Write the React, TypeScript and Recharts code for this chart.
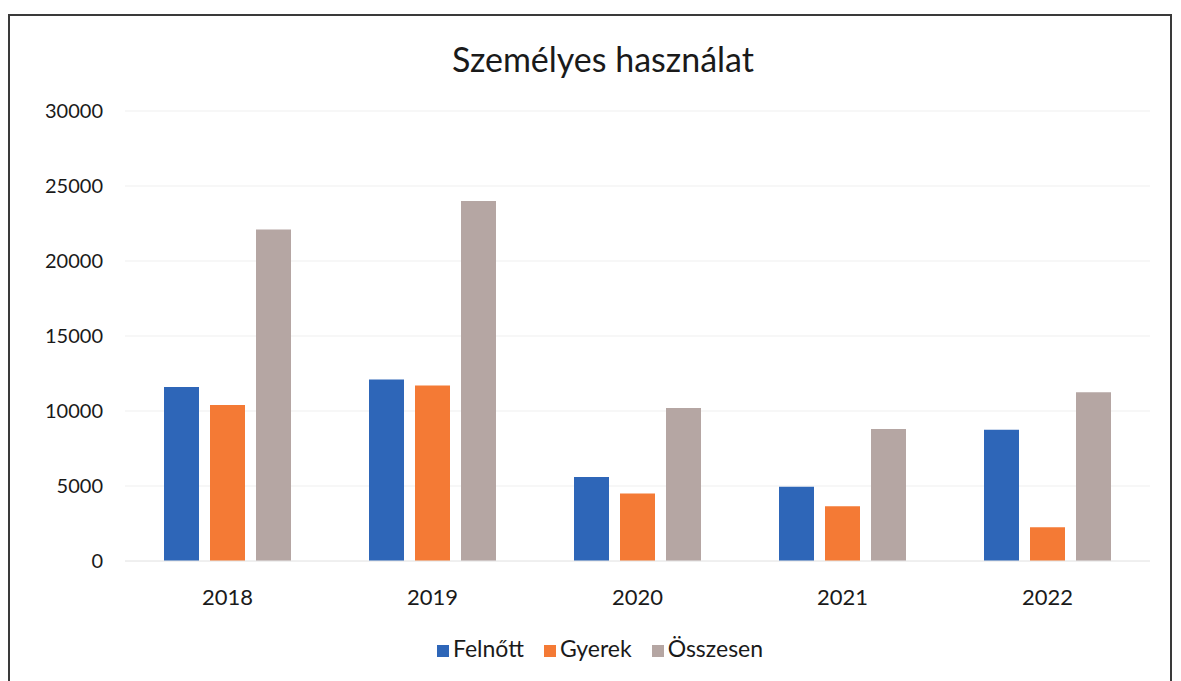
import React from 'react';
import {
  BarChart,
  Bar,
  XAxis,
  YAxis,
  CartesianGrid,
  Legend,
} from 'recharts';

// Years on the category axis
const years = ['2018', '2019', '2020', '2021', '2022'];

// Series values
const felnott = [11600, 12100, 5600, 4950, 8750];
const gyerek = [10400, 11700, 4500, 3650, 2250];
const osszesen = [22100, 24000, 10200, 8800, 11250];

const yTicks = [0, 5000, 10000, 15000, 20000, 25000, 30000];

const COLORS = {
  felnott: '#2E66B8', // Blue
  gyerek: '#F47A35', // Orange
  osszesen: '#B5A6A3', // Greyish brown
};

const FONT = 'Lato, "Open Sans", sans-serif';

const data = years.map((year, i) => ({
  year,
  Felnőtt: felnott[i],
  Gyerek: gyerek[i],
  Összesen: osszesen[i],
}));

const App: React.FC = () => {
  return (
    <div style={{ fontFamily: FONT }}>
      {/* scanned frame around the chart */}
      <div
        style={{
          position: 'absolute',
          left: 8,
          top: 14,
          width: 1164,
          height: 720,
          border: '2px solid #3a3a3a',
          borderBottom: 'none',
          boxSizing: 'border-box',
        }}
      />
      <div
        style={{
          position: 'absolute',
          left: 603,
          top: 41,
          transform: 'translateX(-50%)',
          fontSize: 34,
          lineHeight: '36px',
          color: '#1a1a1a',
          whiteSpace: 'nowrap',
        }}
      >
        Személyes használat
      </div>
      <div style={{ position: 'absolute', left: 0, top: 0 }}>
        <BarChart
          width={1181}
          height={681}
          data={data}
          // legend box eats ~30px of the bottom offset, so margin is reduced
          margin={{ top: 111, right: 31, bottom: 90, left: 0 }}
          barSize={35}
          barGap={11}
        >
          <CartesianGrid vertical={false} stroke="#efefef" />
          <XAxis
            dataKey="year"
            axisLine={{ stroke: '#e8e8e8' }}
            tickLine={false}
            tickSize={0}
            tickMargin={28}
            tick={{ fill: '#1a1a1a', fontSize: 22, fontFamily: FONT }}
          />
          <YAxis
            width={125}
            domain={[0, 30000]}
            ticks={yTicks}
            axisLine={false}
            tickLine={false}
            tickSize={0}
            tickMargin={22}
            tick={{ fill: '#1a1a1a', fontSize: 20, fontFamily: FONT }}
          />
          <Legend
            verticalAlign="middle"
            align="center"
            layout="horizontal"
            iconType="square"
            iconSize={12}
            wrapperStyle={{ top: 634, left: 0, width: 1220, fontSize: 23, fontFamily: FONT }}
            formatter={(value: string) => (
              <span style={{ color: '#1a1a1a', marginRight: 10 }}>{value}</span>
            )}
          />
          <Bar dataKey="Felnőtt" fill={COLORS.felnott} isAnimationActive={false} />
          <Bar dataKey="Gyerek" fill={COLORS.gyerek} isAnimationActive={false} />
          <Bar dataKey="Összesen" fill={COLORS.osszesen} isAnimationActive={false} />
        </BarChart>
      </div>
    </div>
  );
};

export default App;
